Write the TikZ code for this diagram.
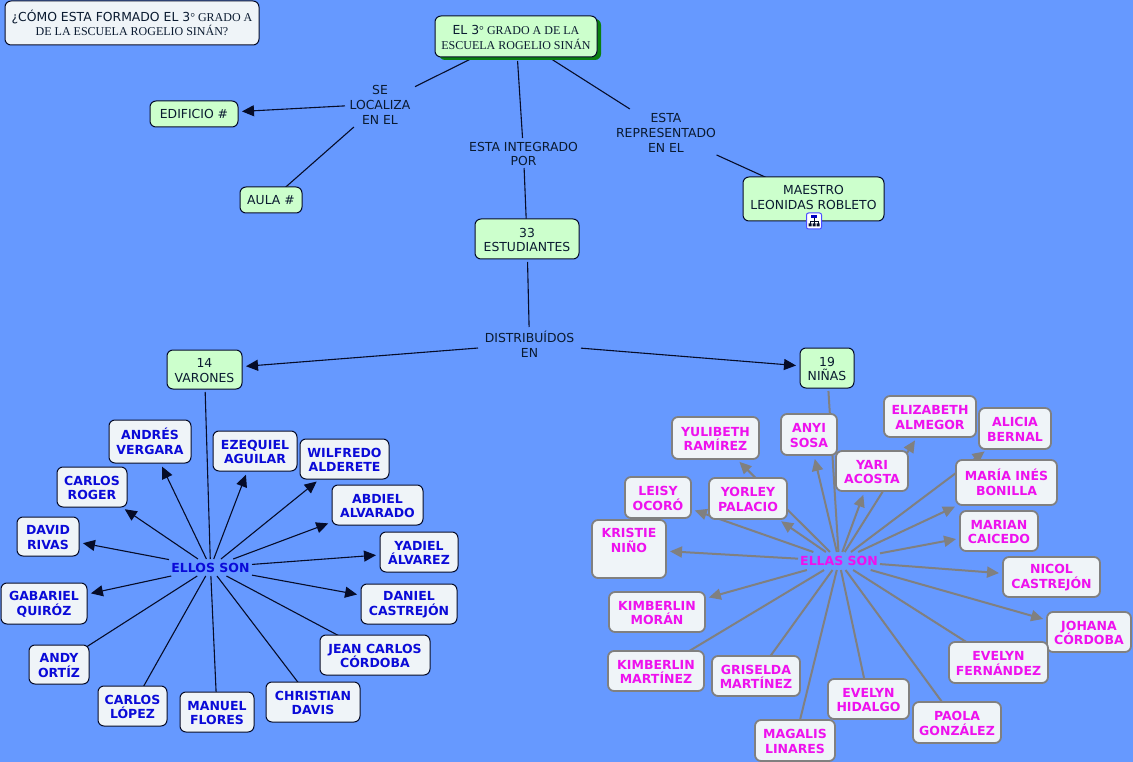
\documentclass[tikz,border=0pt]{standalone}
\usepackage{fontspec}
\setmainfont{DejaVu Sans}
\newfontfamily\tms{Liberation Serif}
\usetikzlibrary{arrows.meta,backgrounds,shadows}
\definecolor{pagebg}{HTML}{6699FF}
\definecolor{leaf}{HTML}{CCFFCC}
\definecolor{pale}{HTML}{EFF4F8}
\definecolor{inkline}{HTML}{060C28}
\definecolor{ink}{HTML}{0A1A30}
\definecolor{boyblue}{HTML}{0A0AD8}
\definecolor{girlpink}{HTML}{EE11EE}
\definecolor{graphite}{HTML}{808080}
\definecolor{shadowgreen}{HTML}{0A8010}
\newcommand{\bodysize}{\fontsize{12.4}{14.6}\selectfont}
\newcommand{\namesize}{\fontsize{12.5}{14.6}\selectfont\bfseries}
\newcommand{\serifpart}{\tms\fontsize{12}{14.6}\selectfont}
\tikzset{
  boxbase/.style={rounded corners=6pt,align=center,inner sep=0pt,outer sep=0pt},
  concept/.style={boxbase,draw=inkline,line width=1pt,fill=leaf,text=ink,font=\bodysize},
  question/.style={boxbase,draw=inkline,line width=1pt,fill=pale,text=ink,font=\bodysize},
  boy/.style={boxbase,draw=inkline,line width=1pt,fill=pale,text=boyblue,font=\namesize},
  girl/.style={boxbase,draw=graphite,line width=1.8pt,fill=pale,text=girlpink,font=\namesize},
  phrase/.style={align=center,inner sep=0pt,outer sep=0pt,text=ink,font=\bodysize},
  hubboy/.style={phrase,text=boyblue,font=\namesize},
  hubgirl/.style={phrase,text=girlpink,font=\namesize},
  inkrule/.style={draw=inkline,line width=1.1pt},
  grayrule/.style={draw=graphite,line width=2pt},
  tipped/.style={-{Triangle[length=12pt,width=11pt]},shorten >=4pt},
  startgap/.style={shorten <=3pt},
}
\newcommand{\fl}{\rule{0pt}{11pt}}
\newcommand{\cmbox}[7]{\node[#6,minimum width={(#4-#2)*1pt},minimum height={(#5-#3)*1pt}] (#1) at ({(#2+#4)/2},{(#3+#5)/2}) {\fl #7};}
\begin{document}
\begin{tikzpicture}[x=1pt,y=-1pt]
\useasboundingbox (0,0) rectangle (1133,762);
% main concepts
\cmbox{question}{5}{1}{259}{45}{question}{¿CÓMO ESTA FORMADO EL 3{\serifpart° GRADO A}\\{\serifpart DE LA ESCUELA ROGELIO SINÁN?}}
\cmbox{root}{435}{16}{597}{57}{concept,copy shadow={shadow xshift=4pt,shadow yshift=-3pt,fill=shadowgreen,draw=none}}{EL 3{\serifpart° GRADO A DE LA}\\{\serifpart ESCUELA ROGELIO SINÁN}}
\cmbox{estudiantes}{475}{219}{579}{259}{concept}{33\\ESTUDIANTES}
\cmbox{maestro}{743}{177}{884}{221}{concept}{MAESTRO\\LEONIDAS ROBLETO\\[-10pt]\mbox{}}
\cmbox{varones}{167}{350}{242}{389}{concept}{14\\VARONES}
\cmbox{ninas}{800}{348}{854}{388}{concept}{19\\NIÑAS}
% linking phrases
\cmbox{localiza}{345}{81}{415}{127}{phrase}{SE\\LOCALIZA\\EN EL}
\cmbox{integrado}{466}{138}{581}{168}{phrase}{ESTA INTEGRADO\\POR}
\cmbox{representado}{614}{109}{718}{155}{phrase}{ESTA\\REPRESENTADO\\EN EL}
\cmbox{distribuidos}{478}{327}{581}{361}{phrase}{DISTRIBUÍDOS\\EN}
% boys
\cmbox{andres}{109}{420}{191}{463}{boy}{ANDRÉS\\VERGARA}
\cmbox{roger}{57}{467}{127}{507}{boy}{CARLOS\\ROGER}
\cmbox{david}{17}{517}{79}{556}{boy}{DAVID\\RIVAS}
\cmbox{gabariel}{1}{583}{87}{624}{boy}{GABARIEL\\QUIRÓZ}
\cmbox{ezequiel}{213}{431}{297}{471}{boy}{EZEQUIEL\\AGUILAR}
\cmbox{wilfredo}{300}{439}{389}{479}{boy}{WILFREDO\\ALDERETE}
\cmbox{abdiel}{332}{485}{423}{525}{boy}{ABDIEL\\ALVARADO}
\cmbox{yadiel}{380}{532}{458}{572}{boy}{YADIEL\\ÁLVAREZ}
\cmbox{daniel}{361}{584}{457}{624}{boy}{DANIEL\\CASTREJÓN}
\cmbox{andy}{29}{645}{89}{684}{boy}{ANDY\\ORTÍZ}
\cmbox{lopez}{98}{686}{167}{726}{boy}{CARLOS\\LÓPEZ}
\cmbox{manuel}{180}{692}{254}{732}{boy}{MANUEL\\FLORES}
\cmbox{christian}{266}{682}{360}{722}{boy}{CHRISTIAN\\DAVIS}
\cmbox{jean}{320}{635}{430}{675}{boy}{JEAN CARLOS\\CÓRDOBA}
% girls
\cmbox{yulibeth}{672}{417}{759}{459}{girl}{YULIBETH\\RAMÍREZ}
\cmbox{anyi}{781}{414}{837}{455}{girl}{ANYI\\SOSA}
\cmbox{leisy}{625}{477}{691}{518}{girl}{LEISY\\OCORÓ}
\cmbox{yorley}{709}{478}{787}{519}{girl}{YORLEY\\PALACIO}
\cmbox{kristie}{592}{520}{666}{578}{girl}{KRISTIE\\NIÑO\\[4pt]\mbox{}}
\cmbox{yari}{836}{451}{908}{491}{girl}{YARI\\ACOSTA}
\cmbox{elizabeth}{884}{396}{976}{437}{girl}{ELIZABETH\\ALMEGOR}
\cmbox{alicia}{979}{408}{1051}{449}{girl}{ALICIA\\BERNAL}
\cmbox{maria}{956}{460}{1057}{505}{girl}{MARÍA INÉS\\BONILLA}
\cmbox{marian}{960}{511}{1038}{551}{girl}{MARIAN\\CAICEDO}
\cmbox{nicol}{1003}{557}{1100}{597}{girl}{NICOL\\CASTREJÓN}
\cmbox{johana}{1047}{612}{1131}{652}{girl}{JOHANA\\CÓRDOBA}
\cmbox{fernandez}{949}{642}{1048}{683}{girl}{EVELYN\\FERNÁNDEZ}
\cmbox{paola}{913}{702}{1001}{743}{girl}{PAOLA\\GONZÁLEZ}
\cmbox{hidalgo}{828}{679}{909}{719}{girl}{EVELYN\\HIDALGO}
\cmbox{magalis}{755}{720}{835}{761}{girl}{MAGALIS\\LINARES}
\cmbox{griselda}{712}{656}{800}{696}{girl}{GRISELDA\\MARTÍNEZ}
\cmbox{martinez}{608}{651}{704}{691}{girl}{KIMBERLIN\\MARTÍNEZ}
\cmbox{moran}{609}{592}{705}{632}{girl}{KIMBERLIN\\MORÁN}
% one-line nodes and hubs take no first-line rule
\renewcommand{\fl}{}
\cmbox{edificio}{150}{101}{238}{127}{concept}{EDIFICIO \#}
\cmbox{aula}{240}{187}{302}{213}{concept}{AULA \#}
\cmbox{ellos}{169}{559}{252}{576}{hubboy}{ELLOS SON}
\cmbox{ellas}{798}{552}{880}{570}{hubgirl}{ELLAS SON}
% map icon
\node[draw=blue!70!white,fill=white,rounded corners=2pt,line width=1pt,minimum width=15pt,minimum height=16pt,inner sep=0pt] (icon) at (814,221) {};
\draw[draw=inkline,line width=.7pt] (814,217) -- (814,225) (810,221) -- (818,221) (810,221) -- (810,224) (818,221) -- (818,224);
\fill[blue!75!black] (811,215.5) rectangle (817,218.5);
\fill[inkline] (808.5,223.5) rectangle (811.5,226.5) (812.5,223.5) rectangle (815.5,226.5) (816.5,223.5) rectangle (819.5,226.5);
% page and connectors, behind the nodes
\begin{scope}[on background layer]
\fill[pagebg] (0,0) rectangle (1133,762);
\draw[inkrule,shorten <=4pt] (root) -- (localiza);
\draw[inkrule,tipped] (localiza) -- (edificio);
\draw[inkrule] (localiza) -- (aula.center);
\draw[inkrule,shorten <=4pt] (root) -- (integrado);
\draw[inkrule] (integrado) -- (estudiantes.center);
\draw[inkrule,shorten <=4pt] (root) -- (representado);
\draw[inkrule] (representado) -- (maestro.center);
\draw[inkrule,startgap] (estudiantes) -- (distribuidos);
\draw[inkrule,tipped] (distribuidos) -- (varones);
\draw[inkrule,tipped] (distribuidos) -- (ninas);
\draw[inkrule,startgap] (varones) -- (ellos);
\draw[grayrule,startgap] (ninas) -- (ellas);
\foreach \t in {andres,roger,david,gabariel,ezequiel,wilfredo,abdiel,yadiel,daniel}
  \draw[inkrule,tipped] (ellos) -- (\t);
\foreach \t in {andy,lopez,manuel,christian,jean}
  \draw[inkrule] (ellos) -- (\t.center);
\foreach \t in {yulibeth,anyi,leisy,yorley,kristie,yari,elizabeth,alicia,maria,marian,nicol,johana,moran}
  \draw[grayrule,tipped] (ellas) -- (\t);
\foreach \t in {fernandez,paola,hidalgo,magalis,griselda,martinez}
  \draw[grayrule] (ellas) -- (\t.center);
\end{scope}
\end{tikzpicture}
\end{document}
